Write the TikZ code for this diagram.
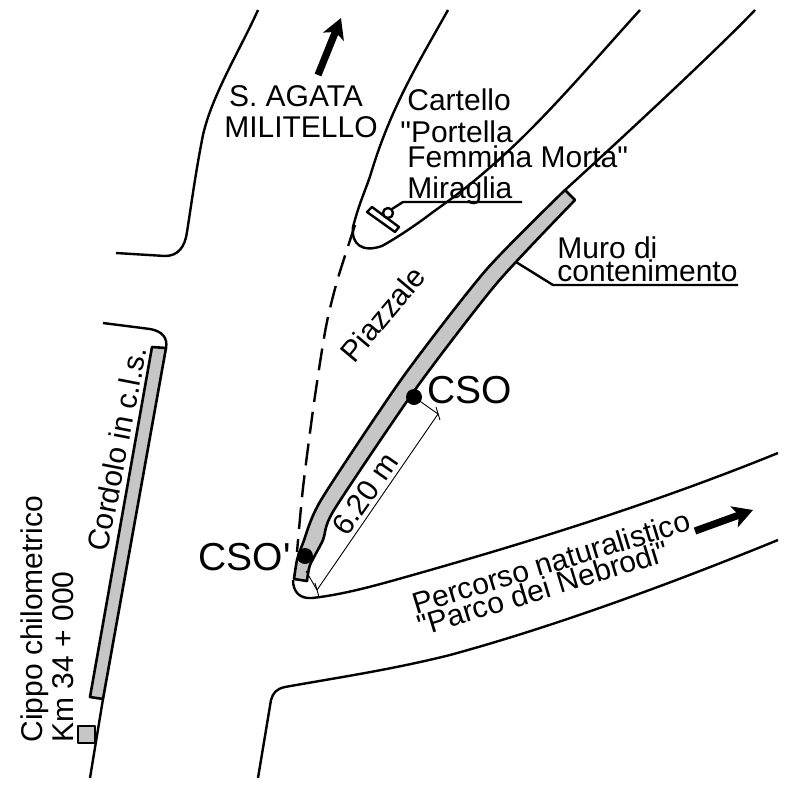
\documentclass[tikz,border=0pt]{standalone}
\usepackage{fontspec}
\usetikzlibrary{arrows.meta}
\newfontfamily\labfont{Liberation Sans}
\tikzset{
road/.style={line width=1.2pt, line join=round},
strip/.style={draw, fill=gray!45, line width=1.3pt, line join=round},
lab/.style={inner sep=0pt, font=\labfont\fontsize{15}{15}\selectfont},
biglab/.style={inner sep=0pt, font=\labfont\fontsize{19.5}{19.5}\selectfont},
bigarrow/.style={line width=3.6pt, -{Stealth[length=10pt,width=11pt,inset=2.5pt]}},
thinline/.style={line width=0.45pt},
}
\begin{document}
\begin{tikzpicture}[x=0.5pt,y=-0.5pt]
\useasboundingbox (0,0) rectangle (788,788);
% roads
\draw [road] (258,10) .. controls (240,50) and (212,95) .. (203,135) .. controls (196,170) and (192,200) .. (187,232) .. controls (185,247) and (178,256) .. (165,256) -- (116,253);
\draw [road] (448,10) .. controls (420,60) and (392,105) .. (372,170) .. controls (366,190) and (360,200) .. (353,227) .. controls (351,244) and (362,253) .. (382,246) .. controls (400,236) and (420,222) .. (433,212) .. controls (450,200) and (470,185) .. (487,170) .. controls (540,125) and (590,65) .. (640,10);
\draw [road, dash pattern=on 11pt off 5pt]  plot[smooth, tension=.5] coordinates {(355,225) (338,278) (328,317) (322,350) (313,410) (303,488) (297,552)};
\draw [road] (755,10) .. controls (720,47) and (620,140) .. (565,190);
\draw [road] (293,580) .. controls (293,592) and (300,599) .. (312,598) .. controls (340,595) and (370,587) .. (395,580) .. controls (520,545) and (650,505) .. (778,453);
\draw [road] (778,540) .. controls (680,580) and (560,625) .. (450,655) .. controls (390,670) and (335,678) .. (285,687) .. controls (276,689) and (273,693) .. (271,700) -- (258,778);
% cordolo
\draw [strip] (152,347) -- (90,697) -- (103,699) -- (166,348) -- cycle;
\draw [road] (103,323) -- (150,329) .. controls (162,331) and (168,338) .. (166,348);
\draw [road] (103,699) -- (90,778);
\draw [strip] (78,726) rectangle (95,743);
% muro
\draw [strip] plot[smooth, tension=.4] coordinates {(565,190) (486,270) (403,377) (321,500) (303,543) (297,560) (294,579)} -- plot[smooth, tension=.4] coordinates {(307,581) (310,565) (323,540) (334,510) (417,387) (497,283) (575,200)} -- cycle;
% cartello
\draw [road, fill=white] (367,212) -- (372,207) -- (399,227) -- (395,232) -- cycle;
\draw [road, fill=white] (388,213) circle (5);
\draw [road] (392,209) -- (403,202) -- (522,202);
\draw [road] (516,262) -- (553,285) -- (738,285);
% quota
\draw [thinline] (414,397) -- (438,414);
\draw [thinline] (306,571) -- (317,590);
\draw [thinline] (317,590) -- (438,414);
\draw [thinline] (315,583) -- (319,597);
\draw [thinline] (436,407) -- (440,420);
\fill (414,397) circle (8);
\fill (305,556) circle (8);
% frecce
\draw [bigarrow] (318,75) -- (341,18);
\draw [bigarrow] (695,531) -- (753,510);
% testi
\node [lab] (agata) at (296,96) {S. AGATA};
\node [lab] (militello) at (301,127) {MILITELLO};
\node [lab, anchor=base west] (cartello) at (407,110) {Cartello};
\node [lab, anchor=base west] (portella) at (400,142) {"Portella};
\node [lab, anchor=base west] (femmina) at (407,167) {Femmina Morta"};
\node [lab, anchor=base west] (miraglia) at (407,198) {Miraglia};
\node [lab, anchor=base west] (muro) at (557,258) {Muro di};
\node [lab, anchor=base west] (contenimento) at (557,281) {contenimento};
\node [lab, rotate=50] (piazzale) at (383,314) {Piazzale};
\node [biglab, anchor=base west] (cso) at (427,403) {CSO};
\node [biglab, anchor=base east] (csop) at (291,570) {CSO'};
\node [lab, rotate=55] (quota) at (365,494) {6.20 m};
\node [lab, rotate=17] (percorso) at (551,562) {Percorso naturalistico};
\node [lab, rotate=17] (nebrodi) at (543,588) {"Parco dei Nebrodi"};
\node [lab, rotate=79] (cordolo) at (117,449) {Cordolo in c.l.s.};
\node [lab, rotate=90] (cippo) at (35,619) {Cippo chilometrico};
\node [lab, rotate=90] (km) at (63,657) {Km 34 + 000};
\end{tikzpicture}
\end{document}
